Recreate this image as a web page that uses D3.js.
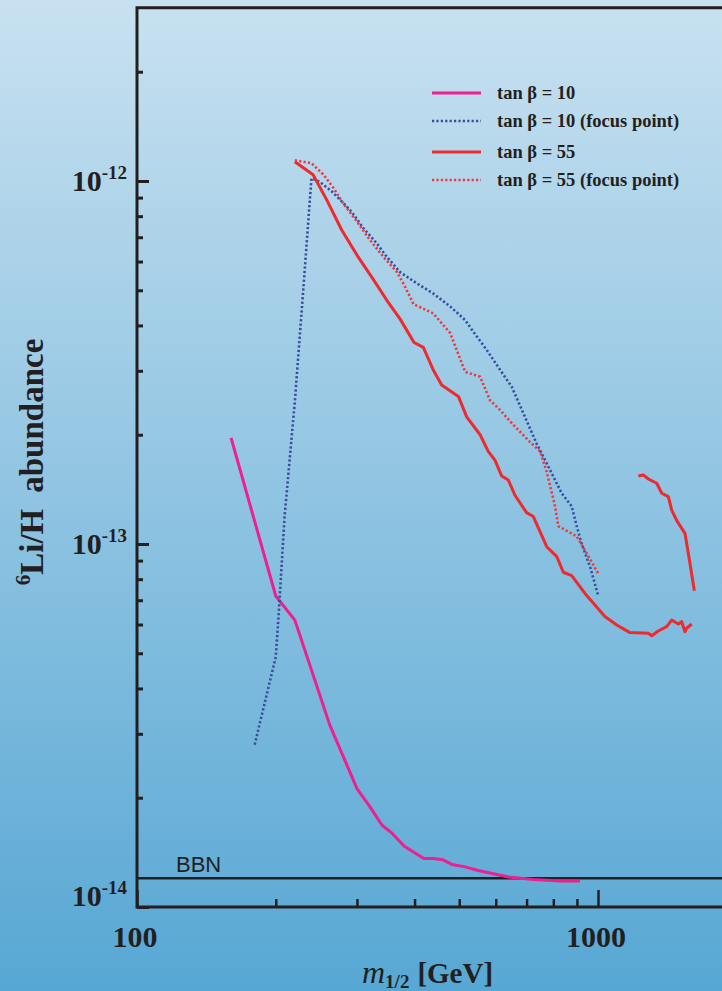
<!DOCTYPE html>
<html>
<head>
<meta charset="utf-8">
<script src="https://cdnjs.cloudflare.com/ajax/libs/d3/7.8.5/d3.min.js"></script>
<style>
  body { margin: 0; }
  svg { display: block; }
</style>
</head>
<body>
<div id="chart"></div>
<script>
// values: m_1/2 in GeV, abundance is 6Li/H
var tb10_m = [160, 200, 220, 262, 300, 320, 340, 357, 380, 419, 439, 460, 482, 515, 550, 593, 639, 724, 827, 914];
var tb10_y = [1.96e-13, 7.19e-14, 6.17e-14, 3.17e-14, 2.12e-14, 1.89e-14, 1.68e-14, 1.60e-14, 1.47e-14,
              1.36e-14, 1.36e-14, 1.35e-14, 1.31e-14, 1.29e-14, 1.26e-14, 1.235e-14, 1.21e-14, 1.19e-14, 1.18e-14, 1.18e-14];

var tb10fp_m = [180, 200, 203, 209, 220, 230, 239, 249, 265, 276, 292, 310, 331, 348, 372, 404, 439, 478, 515, 536,
                574, 613, 650, 689, 736, 787, 834, 877, 899, 922, 961, 1000];
var tb10fp_y = [2.80e-14, 4.89e-14, 6.45e-14, 1.19e-13, 2.47e-13, 5.23e-13, 1.017e-12, 9.96e-13, 9.34e-13, 8.87e-13,
                8.23e-13, 7.41e-13, 6.74e-13, 6.19e-13, 5.61e-13, 5.23e-13, 4.90e-13, 4.51e-13, 4.14e-13, 3.85e-13,
                3.42e-13, 3.02e-13, 2.71e-13, 2.29e-13, 1.89e-13, 1.60e-13, 1.38e-13, 1.27e-13, 1.12e-13, 1.00e-13,
                8.66e-14, 7.24e-14];

var tb55_m = [220, 241, 258, 278, 300, 326, 348, 372, 399, 418, 439, 458, 498, 519, 555, 578, 598, 618, 639, 661,
              700, 724, 774, 814, 841, 877, 937, 1035, 1098, 1173, 1286, 1308, 1351, 1409, 1445, 1494, 1519, 1544, 1557, 1597];
var tb55_y = [1.13e-12, 1.04e-12, 8.87e-13, 7.33e-13, 6.25e-13, 5.34e-13, 4.70e-13, 4.17e-13, 3.59e-13, 3.48e-13,
              3.02e-13, 2.74e-13, 2.55e-13, 2.24e-13, 2.00e-13, 1.80e-13, 1.70e-13, 1.54e-13, 1.50e-13, 1.36e-13,
              1.22e-13, 1.19e-13, 9.83e-14, 9.23e-14, 8.36e-14, 8.18e-14, 7.31e-14, 6.31e-14, 5.98e-14, 5.70e-14,
              5.68e-14, 5.59e-14, 5.76e-14, 5.92e-14, 6.17e-14, 6.02e-14, 6.11e-14, 5.73e-14, 5.86e-14, 6.02e-14];
// second (upper right) branch of tan beta = 55
var tb55b_m = [1223, 1254, 1286, 1341, 1375, 1421, 1445, 1482, 1544, 1583, 1618];
var tb55b_y = [1.54e-13, 1.55e-13, 1.51e-13, 1.47e-13, 1.38e-13, 1.35e-13, 1.24e-13, 1.16e-13, 1.07e-13, 8.85e-14, 7.43e-14];

var tb55fp_m = [220, 239, 254, 267, 280, 300, 320, 342, 366, 378, 398, 439, 478, 515, 555, 583, 613, 655, 712, 749,
                774, 807, 820, 899, 945, 1000];
var tb55fp_y = [1.14e-12, 1.12e-12, 1.04e-12, 9.55e-13, 8.68e-13, 7.73e-13, 6.88e-13, 6.19e-13, 5.62e-13, 5.23e-13,
                4.58e-13, 4.32e-13, 3.81e-13, 2.98e-13, 2.89e-13, 2.49e-13, 2.34e-13, 2.13e-13, 1.91e-13, 1.80e-13,
                1.58e-13, 1.27e-13, 1.12e-13, 1.05e-13, 9.43e-14, 8.31e-14];

var bbnLimit = 1.2e-14;

var legendLabels = ["tan \u03b2 = 10", "tan \u03b2 = 10 (focus point)", "tan \u03b2 = 55", "tan \u03b2 = 55 (focus point)"];

var xMajor = [100, 1000];
var xMinor = [200, 300, 400, 500, 600, 700, 800, 900];
var yMajor = [1e-14, 1e-13, 1e-12];
var yMinor = [2e-14, 3e-14, 4e-14, 5e-14, 6e-14, 7e-14, 8e-14, 9e-14,
              2e-13, 3e-13, 4e-13, 5e-13, 6e-13, 7e-13, 8e-13, 9e-13, 2e-12];

var width = 722, height = 991;
var ink = "#231f20";
var serif = "'Liberation Serif', 'Times New Roman', serif";

var svg = d3.select("#chart").append("svg")
    .attr("width", width)
    .attr("height", height);

// background gradient, light at top, deeper blue at bottom
var grad = svg.append("defs").append("linearGradient")
    .attr("id", "bg")
    .attr("x1", 0).attr("y1", 0).attr("x2", 0).attr("y2", 1);
grad.append("stop").attr("offset", "0%").attr("stop-color", "#c8e1f0");
grad.append("stop").attr("offset", "100%").attr("stop-color", "#57a7d4");
svg.append("rect").attr("width", width).attr("height", height).attr("fill", "url(#bg)");

var x = d3.scaleLog().domain([100, 2000]).range([137, 137 + 461 * Math.log10(20)]);
var y = d3.scaleLog().domain([1e-14, 3e-12]).range([907, 907 - 363 * Math.log10(300)]);

// ticks pointing inward
function styleTicks(g, w) {
    g.select(".domain").remove();
    g.selectAll("line").attr("stroke", ink).attr("stroke-width", w);
}
svg.append("g").attr("transform", "translate(137,0)")
    .call(d3.axisLeft(y).tickValues(yMajor).tickSize(-12).tickFormat(""))
    .call(styleTicks, 3);
svg.append("g").attr("transform", "translate(137,0)")
    .call(d3.axisLeft(y).tickValues(yMinor).tickSize(-6).tickFormat(""))
    .call(styleTicks, 3);
svg.append("g").attr("transform", "translate(0,907)")
    .call(d3.axisBottom(x).tickValues(xMajor).tickSize(-17).tickFormat(""))
    .call(styleTicks, 2.5);
svg.append("g").attr("transform", "translate(0,907)")
    .call(d3.axisBottom(x).tickValues(xMinor).tickSize(-8).tickFormat(""))
    .call(styleTicks, 2.5);

// frame
var x0 = x.range()[0], x1 = x.range()[1], yb = y.range()[0], yt = y.range()[1];
svg.append("path")
    .attr("d", "M" + x1 + "," + yt + "H" + x0 + "V" + yb + "H" + x1)
    .attr("fill", "none")
    .attr("stroke", ink)
    .attr("stroke-width", 3)
    .attr("stroke-linejoin", "miter");

// y tick labels 10^n
yMajor.forEach(function (v) {
    var p = Math.round(Math.log10(v));
    var t = svg.append("text")
        .attr("x", 127)
        .attr("y", y(v) + (v === 1e-14 ? -1 : 10))
        .attr("text-anchor", "end")
        .attr("font-family", serif)
        .attr("font-weight", "bold")
        .attr("font-size", 30)
        .attr("fill", ink);
    t.append("tspan").text("10");
    t.append("tspan").attr("dy", -12).attr("font-size", 19).text(p);
});

// x tick labels
svg.selectAll(".xlab")
    .data(xMajor)
    .enter().append("text")
    .attr("x", function (d) { return x(d) - 2; })
    .attr("y", 947)
    .attr("text-anchor", "middle")
    .attr("font-family", serif)
    .attr("font-weight", "bold")
    .attr("font-size", 30)
    .attr("fill", ink)
    .text(function (d) { return d; });

// axis titles
var xt = svg.append("text")
    .attr("x", 362)
    .attr("y", 983)
    .attr("font-family", serif)
    .attr("font-weight", "bold")
    .attr("font-size", 29)
    .attr("fill", ink);
xt.append("tspan").attr("font-style", "italic").attr("font-weight", "normal").attr("font-size", 32).text("m");
xt.append("tspan").attr("dy", 5).attr("font-size", 19).text("1/2");
xt.append("tspan").attr("dy", -5).attr("dx", 8).text("[GeV]");

var yt2 = svg.append("text")
    .attr("transform", "translate(43,462) rotate(-90)")
    .attr("text-anchor", "middle")
    .attr("font-family", serif)
    .attr("font-weight", "bold")
    .attr("font-size", 33)
    .attr("fill", ink);
yt2.append("tspan").attr("dy", -13).attr("font-size", 21).text("6");
yt2.append("tspan").attr("dy", 13).text("Li/H");
yt2.append("tspan").attr("dx", 16).text("abundance");

// BBN limit
svg.append("line")
    .attr("x1", x0).attr("x2", x1)
    .attr("y1", y(bbnLimit)).attr("y2", y(bbnLimit))
    .attr("stroke", ink)
    .attr("stroke-width", 2.5);
svg.append("text")
    .attr("x", 176)
    .attr("y", y(bbnLimit) - 6)
    .attr("font-family", "'Liberation Sans', Arial, sans-serif")
    .attr("font-size", 22)
    .attr("fill", ink)
    .text("BBN");

// curves
var line = d3.line()
    .x(function (d) { return x(d[0]); })
    .y(function (d) { return y(d[1]); });

var series = [
    {m: tb10_m, v: tb10_y, color: "#ee1f8e", dash: null, w: 3},
    {m: tb10fp_m, v: tb10fp_y, color: "#3b4c9e", dash: "2.2,2.2", w: 2.6},
    {m: tb55_m, v: tb55_y, color: "#ee2a2e", dash: null, w: 3},
    {m: tb55b_m, v: tb55b_y, color: "#ee2a2e", dash: null, w: 3},
    {m: tb55fp_m, v: tb55fp_y, color: "#ea3a40", dash: "2.2,2.2", w: 2.6}
];
var legendStyle = [series[0], series[1], series[2], series[4]];

series.forEach(function (s) {
    svg.append("path")
        .datum(d3.zip(s.m, s.v))
        .attr("d", line)
        .attr("fill", "none")
        .attr("stroke", s.color)
        .attr("stroke-width", s.w)
        .attr("stroke-dasharray", s.dash)
        .attr("stroke-linejoin", "round");
});

// legend
var legendY = [93, 121, 152, 180];
var leg = svg.append("g");
legendLabels.forEach(function (label, i) {
    var s = legendStyle[i];
    leg.append("line")
        .attr("x1", 432).attr("x2", 481)
        .attr("y1", legendY[i]).attr("y2", legendY[i])
        .attr("stroke", s.color)
        .attr("stroke-width", s.w)
        .attr("stroke-dasharray", s.dash);
    leg.append("text")
        .attr("x", 497)
        .attr("y", legendY[i] + 6)
        .attr("font-family", serif)
        .attr("font-weight", "bold")
        .attr("font-size", 18.5)
        .attr("fill", ink)
        .text(label);
});
</script>
</body>
</html>
